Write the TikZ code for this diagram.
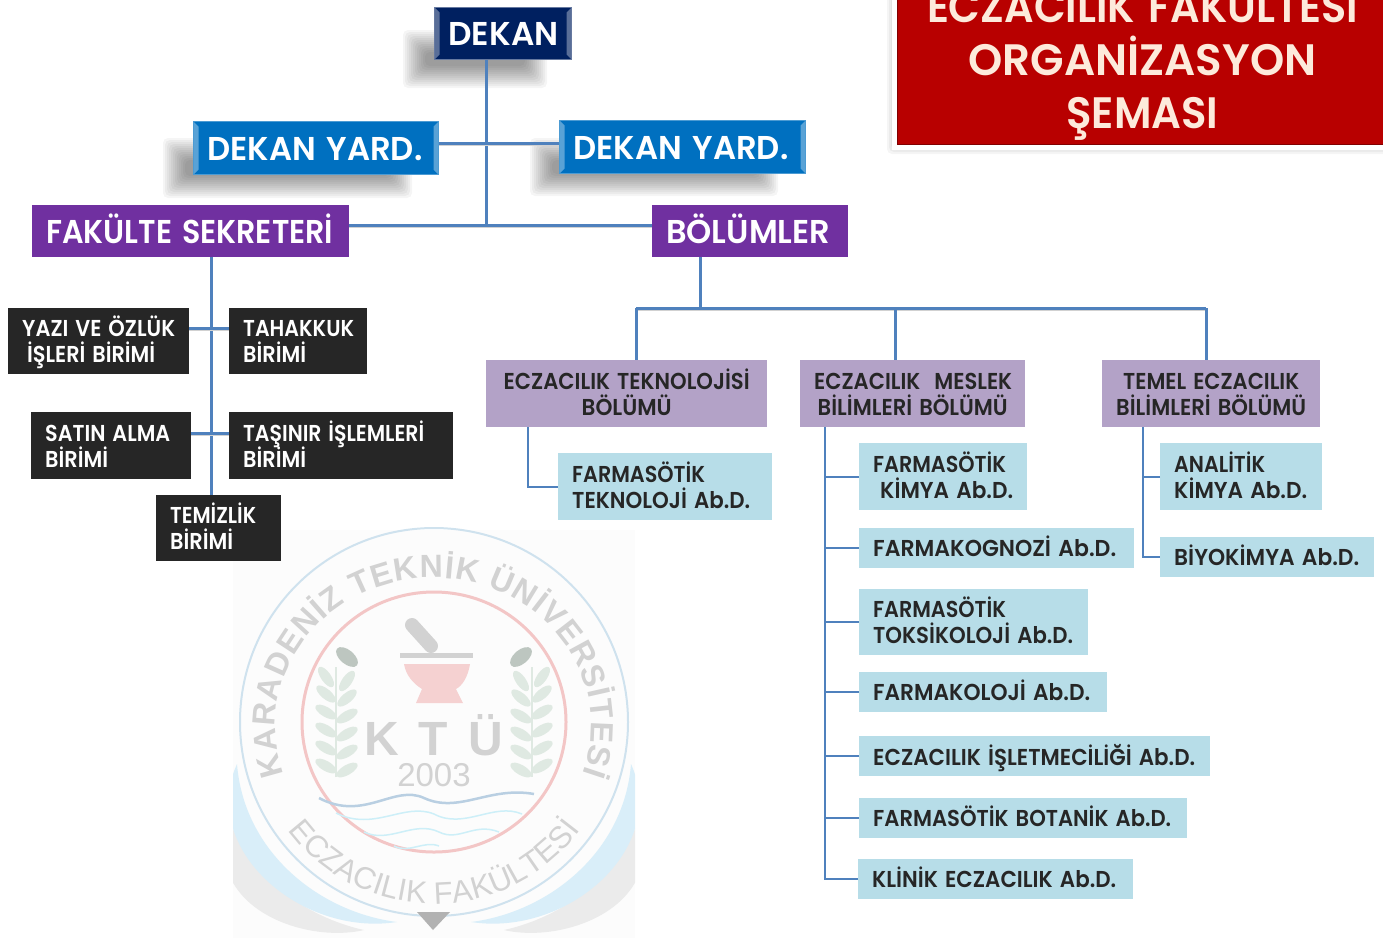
\documentclass[tikz,border=0pt]{standalone}
\usepackage{fontspec}
\usetikzlibrary{calc,decorations.text}
\setmainfont{Poppins}[BoldFont={Poppins SemiBold}]
\newfontfamily\wmfont{Liberation Sans}
\definecolor{navy}{HTML}{002060}
\definecolor{blueb}{HTML}{0070C0}
\definecolor{purp}{HTML}{7030A0}
\definecolor{darkb}{HTML}{262626}
\definecolor{lilac}{HTML}{B3A2C7}
\definecolor{pale}{HTML}{B7DDE8}
\definecolor{redb}{HTML}{B80000}
\definecolor{cream}{HTML}{FDEADB}
\definecolor{conn}{HTML}{4F81BD}
\definecolor{wmgray}{HTML}{D2D2D2}
\definecolor{wmblue}{HTML}{CFE2EE}
\definecolor{wmsw}{HTML}{D9EEF9}
\definecolor{wmpink}{HTML}{F3C6C6}
\definecolor{wmgreen}{HTML}{DFE9E2}
\definecolor{wmwave}{HTML}{B9CFE2}
\definecolor{wmcyan}{HTML}{CDEFF8}
\def\rz{2pt}
\newcommand\fw[2]{\raisebox{-\rz}[\height][\depth]{\resizebox{#1pt}{\height}{\vphantom{İŞ}#2}}}
\newcommand\softshadow[4]{\foreach \i in {0,...,11}{\fill[black,opacity=.04,rounded corners=5pt]
  ({#1-12+2*\i},{#2-12+2*\i}) rectangle ({#3+12-2*\i},{#4+12-2*\i});}}
% box: style, name, x1,y1,x2,y2, text
\newcommand\bx[7]{\pgfmathsetmacro\tw{#5-#3-28}\pgfmathsetmacro\hh{#6-#4}
  \node[#1,anchor=north west,inner xsep=14pt,inner ysep=0pt,text width=\tw pt,minimum height=\hh pt] (#2) at (#3,#4) {\lineskiplimit=-100pt\relax #7};}
\tikzset{
 big/.style={font=\fontsize{33}{38}\selectfont\bfseries,text=white,align=left},
 mid/.style={font=\fontsize{23}{25}\selectfont\bfseries,align=left,execute at begin node={\def\rz{1.5pt}}},
 navybox/.style={big,fill=navy,draw=navy!60!white,line width=1pt,
   path picture={\fill[navy!65!white] (path picture bounding box.north west) -- ++(5,5) -- ($(path picture bounding box.south west)+(5,-5)$) -- (path picture bounding box.south west) -- cycle;
   \fill[navy!65!white] (path picture bounding box.north east) -- ++(-5,5) -- ($(path picture bounding box.south east)+(-5,-5)$) -- (path picture bounding box.south east) -- cycle;}},
 bluebox/.style={big,fill=blueb,draw=blueb!70!white,line width=1pt,
   path picture={\fill[blueb!65!white] (path picture bounding box.north west) -- ++(5,5) -- ($(path picture bounding box.south west)+(5,-5)$) -- (path picture bounding box.south west) -- cycle;
   \fill[blueb!65!white] (path picture bounding box.north east) -- ++(-5,5) -- ($(path picture bounding box.south east)+(-5,-5)$) -- (path picture bounding box.south east) -- cycle;}},
 purpbox/.style={big,fill=purp},
 darkbox/.style={mid,fill=darkb,text=white},
 lilacbox/.style={mid,fill=lilac,text=black!85,align=center},
 palebox/.style={mid,fill=pale,text=black!85},
 link/.style={draw=conn,line width=3pt,preaction={draw=black!18,line width=3pt,transform canvas={yshift=-1.5pt}}},
 thin link/.style={draw=conn,line width=1.6pt},
 trunk/.style={draw=conn,line width=3pt},
}
\begin{document}
\begin{tikzpicture}[x=1pt,y=-1pt]
\useasboundingbox (0,0) rectangle (1383,938);
\begin{scope}
\clip (0,0) rectangle (1383,938);
% watermark
\begin{scope}[shift={(434,722)},x=1pt,y=1pt]
 \fill[black!1] (-201,192) rectangle (201,-216);
 \begin{scope}
 \clip (-201,192) rectangle (201,-216);
 \foreach \s in {-1,1}{
  \fill[black!8] ({\s*205},-95) .. controls ({\s*190},-150) and ({\s*130},-195) .. ({\s*70},-208) .. controls ({\s*130},-222) and ({\s*235},-185) .. ({\s*205},-95) -- cycle;
  \fill[wmsw] ({\s*197},-42) .. controls ({\s*190},-130) and ({\s*115},-190) .. ({\s*37},-200) .. controls ({\s*135},-215) and ({\s*235},-125) .. ({\s*197},-42) -- cycle;
 }
 \end{scope}
 \draw[wmblue,line width=2pt] (0,0) circle (194);
 \draw[wmpink,line width=3pt] (0,0) ellipse (132 and 130);
 \path[decorate,decoration={text along path,text align={fit to path},
   text={|\wmfont\bfseries\fontsize{32}{32}\selectfont\color{wmgray}|KARADENİZ TEKNİK ÜNİVERSİTESİ}}]
   (-150,-52) arc[start angle=199,end angle=-19,x radius=158,y radius=148];
 \path[decorate,decoration={text along path,text align={fit to path},
   text={|\wmfont\fontsize{31}{31}\selectfont\color{wmgray}|ECZACILIK FAKÜLTESİ}}]
   (-146,-108) arc[start angle=216.5,end angle=323.5,x radius=182,y radius=182];
 % mortar and pestle
 \draw[wmgray,line width=14pt,line cap=round] (-22,97) -- (-3,76);
 \fill[wmgray] (-34,69) rectangle (39,64);
 \fill[wmpink!80] (-30,58) -- (36,58) .. controls (34,45) and (28,36) .. (22,33) -- (29,19) -- (-18,19) -- (-12,33) .. controls (-20,38) and (-28,46) .. (-30,58) -- cycle;
 \foreach \s in {-1,1}{
  \foreach \yy/\a in {45/55,28/40,10/30,-8/30,-26/30,-44/30}{
    \fill[wmgreen,rotate around={\s*\a:({\s*108},\yy)}] ({\s*108},\yy) ellipse (12 and 5);
    \fill[wmgreen,rotate around={-\s*\a:({\s*87},{\yy-4})}] ({\s*87},{\yy-4}) ellipse (12 and 5);}
  \draw[wmgreen,line width=2pt] ({\s*98},-55) -- ({\s*98},55);
  \fill[wmgreen!85!black,rotate around={\s*40:({\s*87},65)}] ({\s*87},65) ellipse (13 and 7);
 }
 \node[font=\wmfont\bfseries\fontsize{48}{48}\selectfont,text=wmgray,inner sep=0pt] (ktu) at (0,-13) {K\hspace{19pt}T\hspace{21pt}Ü};
 \node[font=\wmfont\fontsize{33}{33}\selectfont,text=wmgray,inner sep=0pt] (year) at (0,-53) {2003};
 \draw[wmwave,line width=2.5pt] (-115,-76) .. controls (-70,-100) and (-40,-62) .. (-10,-76) .. controls (25,-92) and (55,-64) .. (100,-72);
 \draw[wmcyan,line width=1.5pt] (-98,-91) .. controls (-60,-110) and (-30,-80) .. (0,-92) .. controls (30,-108) and (60,-80) .. (88,-92);
 \draw[wmcyan,line width=1.5pt] (-70,-110) .. controls (-45,-122) and (-20,-98) .. (5,-110) .. controls (25,-120) and (40,-100) .. (65,-110);
 \draw[wmcyan,line width=1.5pt] (-40,-124) .. controls (-25,-132) and (-10,-118) .. (5,-124);
 \fill[wmgray!85!black] (-17,-190) -- (16,-190) -- (-1,-208) -- cycle;
\end{scope}
% title
\softshadow{899}{-20}{1400}{142}
\fill[white] (892,-20) rectangle (1400,150);
\bx{fill=redb,draw=redb!70!black,line width=1pt,text=cream,font=\fontsize{44}{53}\selectfont\bfseries,align=center}{title}{897}{-26}{1387}{144}{\fw{431}{ECZACILIK FAKÜLTESİ}\\ \fw{348}{ORGANİZASYON}\\ \fw{152}{ŞEMASI}}
\end{scope}
% shadows
\softshadow{415}{42}{535}{76}
\softshadow{175}{150}{400}{186}
\softshadow{542}{150}{766}{184}
% named junctions
\coordinate (jd) at (486,225);
\coordinate (jy) at (486,143);
\coordinate (js) at (211,328);
\coordinate (jt) at (211,433);
\coordinate (jb) at (700,308);
\coordinate (j1) at (636,308);
\coordinate (j2) at (895,308);
\coordinate (j3) at (1206,308);
% boxes
\bx{navybox}{dekan}{434}{7}{571}{59}{\fw{110}{DEKAN}}
\bx{bluebox}{yl}{193}{121}{438}{174}{\fw{215}{DEKAN YARD.}}
\bx{bluebox}{yrr}{559}{120}{805}{173}{\fw{215}{DEKAN YARD.}}
\bx{purpbox}{fs}{32}{205}{349}{257}{\fw{287}{FAKÜLTE SEKRETERİ}}
\bx{purpbox}{bol}{652}{205}{848}{257}{\fw{164}{BÖLÜMLER}}
\bx{darkbox}{yazi}{8}{308}{189}{374}{\fw{153}{YAZI VE ÖZLÜK}\\[-2pt]\hspace*{5pt}\fw{128}{İŞLERİ BİRİMİ}}
\bx{darkbox}{tah}{229}{308}{367}{374}{\fw{111}{TAHAKKUK}\\[-2pt]\fw{63}{BİRİMİ}}
\bx{darkbox}{sat}{31}{412}{191}{479}{\fw{125}{SATIN ALMA}\\[-2pt]\fw{63}{BİRİMİ}}
\bx{darkbox}{tas}{229}{412}{453}{479}{\fw{181}{TAŞINIR İŞLEMLERİ}\\[-2pt]\fw{63}{BİRİMİ}}
\bx{darkbox}{tem}{156}{495}{281}{561}{\fw{86}{TEMİZLİK}\\[-2pt]\fw{63}{BİRİMİ}}
\bx{lilacbox}{etek}{486}{360}{767}{427}{\fw{246}{ECZACILIK TEKNOLOJİSİ}\\[-2pt]\fw{90}{BÖLÜMÜ}}
\bx{lilacbox}{mes}{800}{360}{1025}{427}{\fw{198}{ECZACILIK\ \ MESLEK}\\[-2pt]\fw{190}{BİLİMLERİ BÖLÜMÜ}}
\bx{lilacbox}{tmel}{1102}{360}{1320}{427}{\fw{176}{TEMEL ECZACILIK}\\[-2pt]\fw{190}{BİLİMLERİ BÖLÜMÜ}}
\bx{palebox}{ftek}{558}{453}{772}{520}{\fw{133}{FARMASÖTİK}\\[-2pt]\fw{178}{TEKNOLOJİ Ab.D.}}
\bx{palebox}{fkim}{859}{443}{1027}{510}{\fw{133}{FARMASÖTİK}\\[-2pt]\hspace*{7pt}\fw{133}{KİMYA Ab.D.}}
\bx{palebox}{fkog}{859}{528}{1134}{568}{\fw{243}{FARMAKOGNOZİ Ab.D.}}
\bx{palebox}{ftok}{859}{589}{1088}{655}{\fw{133}{FARMASÖTİK}\\[-2pt]\fw{200}{TOKSİKOLOJİ Ab.D.}}
\bx{palebox}{fkol}{859}{672}{1107}{712}{\fw{217}{FARMAKOLOJİ Ab.D.}}
\bx{palebox}{eis}{859}{736}{1210}{776}{\fw{322}{ECZACILIK İŞLETMECİLİĞİ Ab.D.}}
\bx{palebox}{fbot}{859}{798}{1187}{838}{\fw{298}{FARMASÖTİK BOTANİK Ab.D.}}
\bx{palebox}{kli}{858}{859}{1133}{899}{\fw{244}{KLİNİK ECZACILIK Ab.D.}}
\bx{palebox}{ana}{1160}{443}{1322}{510}{\fw{91}{ANALİTİK}\\[-2pt]\fw{133}{KİMYA Ab.D.}}
\bx{palebox}{biy}{1160}{537}{1374}{577}{\fw{185}{BİYOKİMYA Ab.D.}}
% connectors
\draw[trunk] (dekan.south -| jd) -- (jd);
\draw[link] (yl.east |- jy) -- (yrr.west |- jy);
\draw[link] (fs.east |- jd) -- (bol.west |- jd);
\draw[trunk] (fs.south -| js) -- (tem.north -| js);
\draw[link] (yazi.east |- js) -- (tah.west |- js);
\draw[link] (sat.east |- jt) -- (tas.west |- jt);
\draw[trunk] (bol.south -| jb) -- (jb);
\draw[link] (j1) -- (j3);
\draw[trunk] (j1) -- (j1 |- etek.north);
\draw[trunk] (j2) -- (j2 |- mes.north);
\draw[trunk] (j3) -- (j3 |- tmel.north);
\coordinate (te) at (528,0);
\coordinate (me) at (825,0);
\coordinate (tm) at (1143,0);
\draw[thin link] (etek.south -| te) |- (ftek.west);
\draw[thin link] (mes.south -| me) |- (kli.west);
\foreach \n in {fkim,fkog,ftok,fkol,eis,fbot}{\draw[thin link] (\n.west) -- (\n.west -| me);}
\draw[thin link] (tmel.south -| tm) |- (biy.west);
\draw[thin link] (ana.west) -- (ana.west -| tm);
\end{tikzpicture}
\end{document}
